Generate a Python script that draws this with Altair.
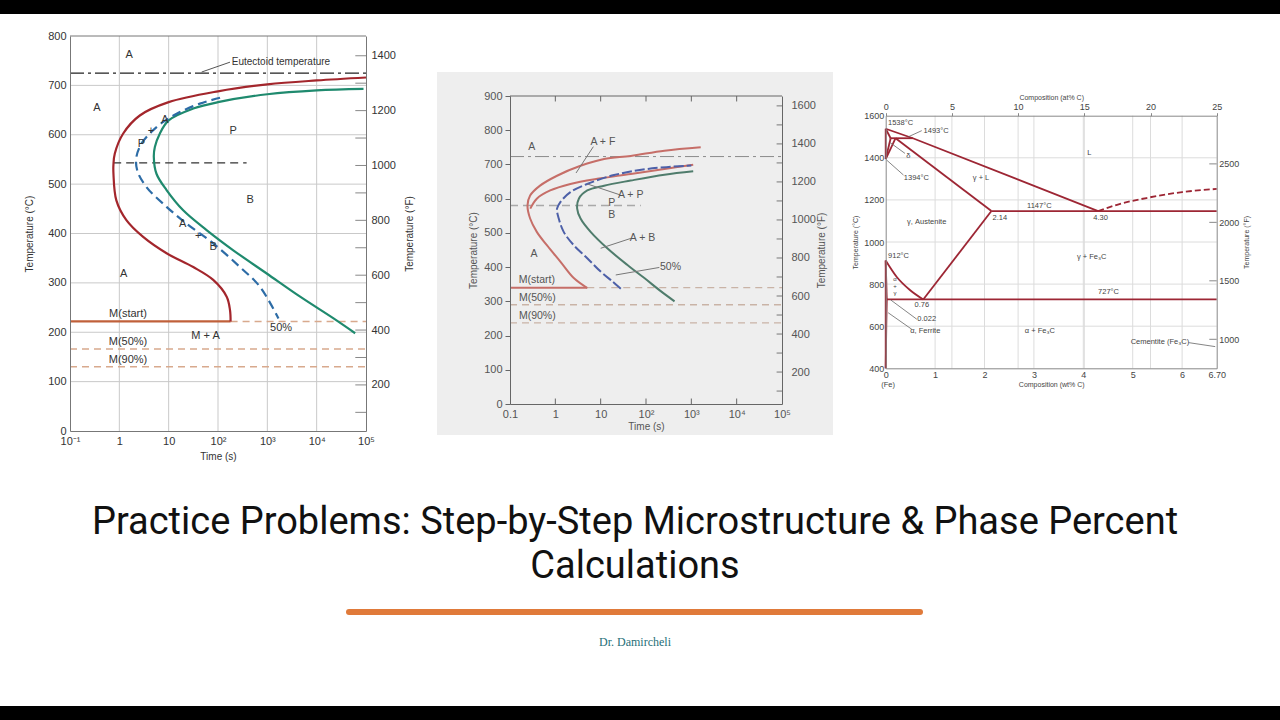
import json
import altair as alt
import pandas as pd

# ======================= DATA =======================
# ---- Panel 1: isothermal transformation diagram, eutectoid steel ----
P1_TIME_TICKS = [0.1, 1, 10, 100, 1000, 10000, 100000]
P1_TIME_LABELS = ["10⁻¹", "1", "10", "10²", "10³", "10⁴", "10⁵"]
P1_TIME_GRID = [1, 10, 100, 1000, 10000]
P1_C_TICKS = [0, 100, 200, 300, 400, 500, 600, 700, 800]
P1_C_GRID = [100, 200, 300, 400, 500, 600, 700]
P1_F_TICKS = [200, 400, 600, 800, 1000, 1200, 1400]
P1_F_MINOR = [100, 200, 300, 400, 500, 600, 700, 800, 900, 1000, 1100, 1200, 1300, 1400]

P1_START_T = [100000, 10000, 1000, 100, 10, 2.6, 1.19, 0.81, 0.76, 0.76, 0.87, 1.39, 3.04, 9.06, 31.5, 80, 150, 175, 180]
P1_START_C = [716, 710, 702, 688, 666, 639, 602, 562, 540, 521, 467, 427, 393, 360, 332, 306, 272, 245, 222]
P1_FINISH_T = [89000, 10000, 1000, 100, 31.5, 10, 6.6, 5.25, 5.0, 5.66, 9.06, 19.7, 58.7, 204, 973, 4620, 21980, 60300]
P1_FINISH_C = [693, 690, 682, 666, 653, 629, 602, 575, 555, 521, 488, 447, 407, 366, 319, 272, 228, 198]
P1_HALF_T = [110, 43, 16.9, 7.74, 4.49, 2.81, 2.22, 2.30, 3.55, 9.06, 23, 80, 279, 711, 1680]
P1_HALF_C = [675, 663, 646, 626, 606, 582, 555, 528, 494, 454, 420, 380, 332, 292, 228]
P1_EUTECTOID = 725
P1_MS, P1_M50, P1_M90 = 222, 166, 130
P1_MS_END = 180
P1_DASH_C, P1_DASH_T0, P1_DASH_T1 = 543, 0.75, 380
P1_LABELS = [
    ("A", 1.58, 762), ("A", 0.353, 655), ("P", 204, 608), ("B", 447, 467),
    ("A", 1.23, 318), ("M + A", 56, 192), ("50%", 1900, 208),
    ("P", 2.8, 581), ("+", 4.4, 607), ("A", 8.4, 629),
    ("A", 19.2, 419), ("+", 39.8, 395), ("B", 80, 373),
    ("M(start)", 1.5, 237), ("M(50%)", 1.5, 181), ("M(90%)", 1.5, 144),
]
P1_EUT_LABEL = ("Eutectoid temperature", 190, 747)
P1_EUT_ARROW_T = [175, 46.6]
P1_EUT_ARROW_C = [747, 727]

# ---- Panel 2: isothermal transformation diagram, alloy steel ----
P2_TIME_TICKS = [0.1, 1, 10, 100, 1000, 10000, 100000]
P2_TIME_LABELS = ["0.1", "1", "10", "10²", "10³", "10⁴", "10⁵"]
P2_TIME_MINOR = [1, 10, 100, 1000, 10000]
P2_C_TICKS = [0, 100, 200, 300, 400, 500, 600, 700, 800, 900]
P2_F_TICKS = [200, 400, 600, 800, 1000, 1200, 1400, 1600]
P2_F_MINOR = [100, 200, 300, 400, 500, 600, 700, 800, 900, 1000, 1100, 1200, 1300, 1400, 1500, 1600]

P2_AF_T = [5.06, 2.55, 1.29, 0.65, 0.39, 0.278, 0.243, 0.278, 0.46, 1.09, 3.6, 11.9, 46, 255, 1611]
P2_AF_C = [339, 368, 416, 464, 503, 542, 580, 609, 638, 667, 696, 716, 725, 740, 750]
P2_AP_T = [0.28, 0.39, 0.77, 2.15, 8.4, 46, 255, 1100]
P2_AP_C = [571, 600, 624, 643, 658, 672, 687, 699]
P2_HALF_T = [27.8, 18.2, 10, 5.06, 2.55, 1.53, 1.19, 1.09, 1.29, 2.15, 5.06, 19.8, 110, 1000]
P2_HALF_C = [337, 358, 387, 426, 464, 503, 542, 571, 590, 619, 643, 669, 687, 697]
P2_AB_T = [426, 215, 92, 39, 14, 6.0, 3.6, 3.03, 3.3, 5.06, 11.9, 46, 255, 1100]
P2_AB_C = [300, 329, 368, 406, 455, 503, 542, 571, 600, 624, 638, 653, 670, 680]
P2_EUTECTOID = 723
P2_MS, P2_M50, P2_M90 = 340, 290, 237
P2_MS_END = 5.06
P2_DASH_C, P2_DASH_T1 = 580, 77
P2_LABELS = [
    ("A", 0.30, 751), ("A + F", 11.2, 766), ("A + P", 46, 611), ("P", 17.5, 588),
    ("B", 17.5, 551), ("A + B", 84, 484), ("A", 0.34, 438), ("50%", 347, 399),
    ("M(start)", 0.39, 363), ("M(50%)", 0.40, 310), ("M(90%)", 0.40, 257),
]
P2_LEADERS = [  # (id, t0, C0, t1, C1)
    ("af", 6.9, 752, 2.86, 675),
    ("ap", 26.9, 611, 5.06, 643),
    ("ab", 46.4, 484, 10, 455),
    ("half", 197, 399, 21.5, 377),
]

# ---- Panel 3: iron - iron carbide phase diagram ----
P3_WT_TICKS = [0, 1, 2, 3, 4, 5, 6, 6.70]
P3_WT_GRID = [1, 2, 3, 4, 5, 6]
P3_AT_TICKS = [0, 5, 10, 15, 20, 25]
P3_AT_GRID = [5, 10, 15, 20]
P3_C_TICKS = [400, 600, 800, 1000, 1200, 1400, 1600]
P3_C_GRID = [600, 800, 1000, 1200, 1400]
P3_F_TICKS = [1000, 1500, 2000, 2500]

P3_SEGMENTS = {  # phase boundaries: (wt% C list, °C list)
    "liquidus": ([0, 0.55, 4.30], [1538, 1493, 1147]),
    "peritectic": ([0.10, 0.55], [1493, 1493]),
    "delta_sol": ([0, 0.10], [1538, 1493]),
    "delta_solv": ([0, 0.10], [1394, 1493]),
    "gamma_delta": ([0, 0.20], [1394, 1493]),
    "gamma_sol": ([0.20, 2.14], [1493, 1147]),
    "eutectic": ([2.14, 6.70], [1147, 1147]),
    "acm": ([2.14, 0.76], [1147, 727]),
    "alpha_gamma": ([0, 0.022], [912, 727]),
    "eutectoid": ([0.022, 6.70], [727, 727]),
    "alpha_solv": ([0.022, 0.012, 0], [727, 600, 400]),
    "fe_low": ([0, 0], [400, 912]),
    "fe_high": ([0, 0], [1394, 1538]),
}
P3_A3_W = [0, 0.22, 0.49, 0.76]
P3_A3_C = [912, 835, 772, 727]
P3_FE3C_LIQ_W = [4.30, 4.7, 5.3, 6.0, 6.70]
P3_FE3C_LIQ_C = [1147, 1178, 1210, 1237, 1252]
P3_LABELS = [
    ("1538°C", 0.30, 1565), ("1493°C", 1.02, 1529), ("δ", 0.46, 1410),
    ("1394°C", 0.62, 1306), ("L", 4.12, 1421), ("γ + L", 1.93, 1302),
    ("1147°C", 3.11, 1171), ("2.14", 2.31, 1112), ("4.30", 4.35, 1112),
    ("γ, Austenite", 0.83, 1093), ("912°C", 0.26, 935), ("γ + Fe₃C", 4.17, 930),
    ("727°C", 4.51, 764), ("0.76", 0.73, 701), ("0.022", 0.83, 633),
    ("α, Ferrite", 0.80, 576), ("α + Fe₃C", 3.12, 579), ("Cementite (Fe₃C)", 5.55, 527),
    ("(Fe)", 0.05, 320),
]
P3_STACK = [("α", 0.19, 822), ("+", 0.19, 791), ("γ", 0.19, 760)]
P3_LEADERS = [
    ("1493", 0.73, 1529, 0.46, 1500),
    ("delta", 0.39, 1421, 0.09, 1472),
    ("1394", 0.36, 1318, 0.02, 1389),
    ("0022", 0.63, 633, 0.10, 725),
    ("ferrite", 0.53, 585, 0.05, 664),
    ("cem", 6.13, 522, 6.67, 503),
]

TITLE_LINES = ["Practice Problems: Step-by-Step Microstructure & Phase Percent", "Calculations"]
AUTHOR = "Dr. Damircheli"

# ======================= LAYOUT / STYLE =======================
W, H = 1280, 720
SANS = "Liberation Sans"

X1 = alt.Scale(type="log", domain=[0.1, 100000], range=[70, 366], nice=False)
Y1 = alt.Scale(domain=[0, 800], range=[431, 36], nice=False, zero=False)
F1 = alt.Scale(domain=[32, 1472], range=[431, 36], nice=False, zero=False)

X2 = alt.Scale(type="log", domain=[0.1, 100000], range=[510, 782], nice=False)
Y2 = alt.Scale(domain=[0, 900], range=[404, 96], nice=False, zero=False)
F2 = alt.Scale(domain=[32, 1652], range=[404, 96], nice=False, zero=False)

X3 = alt.Scale(domain=[0, 6.70], range=[885.7, 1216.7], nice=False, zero=False)
XA3 = alt.Scale(domain=[0, 25], range=[885.7, 1216.7], nice=False, zero=False)
Y3 = alt.Scale(domain=[400, 1600], range=[368.3, 115.7], nice=False, zero=False)
F3 = alt.Scale(domain=[752, 2912], range=[368.3, 115.7], nice=False, zero=False)


def lab_expr(labels):
    return json.dumps(labels) + "[round(log(datum.value)/LN10)+1]"


def path(xs, ys, sx, sy, color, width=2.0, dash=None, interp="catmull-rom"):
    df = pd.DataFrame({"x": xs, "y": ys, "i": list(range(len(xs)))})
    kw = dict(color=color, strokeWidth=width, interpolate=interp)
    if dash:
        kw["strokeDash"] = dash
    return alt.Chart(df).mark_line(**kw).encode(
        x=alt.X("x:Q", scale=sx, axis=None),
        y=alt.Y("y:Q", scale=sy, axis=None),
        order=alt.Order("i:Q"),
    )


def seg(x0, x1, y, sx, sy, color, width=1.5, dash=None):
    return path([x0, x1], [y, y], sx, sy, color, width, dash, "linear")


def texts(items, sx, sy, size, color, align="center", font=SANS, style=None):
    df = pd.DataFrame(items, columns=["label", "x", "y"])
    kw = dict(fontSize=size, color=color, font=font, align=align, baseline="middle")
    if style:
        kw["fontStyle"] = style
    return alt.Chart(df).mark_text(**kw).encode(
        x=alt.X("x:Q", scale=sx, axis=None),
        y=alt.Y("y:Q", scale=sy, axis=None),
        text="label:N",
    )


def vgrid(vals, sx, sy, y0, y1, color, width=1):
    df = pd.DataFrame({"v": vals})
    return alt.Chart(df).mark_rule(color=color, strokeWidth=width).encode(
        x=alt.X("v:Q", scale=sx, axis=None),
        y=alt.YDatum(y0, scale=sy, axis=None),
        y2=alt.Y2Datum(y1),
    )


def hgrid(vals, sx, sy, x0, x1, color, width=1):
    df = pd.DataFrame({"v": vals})
    return alt.Chart(df).mark_rule(color=color, strokeWidth=width).encode(
        y=alt.Y("v:Q", scale=sy, axis=None),
        x=alt.XDatum(x0, scale=sx, axis=None),
        x2=alt.X2Datum(x1),
    )


def leaders(rows, sx, sy, color="#666", width=1):
    recs = []
    for name, a0, b0, a1, b1 in rows:
        recs.append({"id": name, "x": a0, "y": b0, "i": 0})
        recs.append({"id": name, "x": a1, "y": b1, "i": 1})
    df = pd.DataFrame(recs)
    return alt.Chart(df).mark_line(color=color, strokeWidth=width).encode(
        x=alt.X("x:Q", scale=sx, axis=None),
        y=alt.Y("y:Q", scale=sy, axis=None),
        detail="id:N",
        order=alt.Order("i:Q"),
    )


def axis_holder(xdom, ydom, sx, sy, xaxis, yaxis):
    df = pd.DataFrame({"x": xdom, "y": ydom})
    return alt.Chart(df).mark_point(opacity=0).encode(
        x=alt.X("x:Q", scale=sx, axis=xaxis),
        y=alt.Y("y:Q", scale=sy, axis=yaxis),
    )


def axis_style(color, size, tsize):
    return dict(labelFont=SANS, labelFontSize=size, labelColor=color,
                titleFont=SANS, titleFontSize=tsize, titleFontWeight="normal",
                titleColor=color, grid=False, labelFlush=False, labelOverlap=False, zindex=2)


RIGHT_TITLE = dict(titleAngle=270, titleBaseline="top")

layers = []

# ---- background decoration ----
dummy = pd.DataFrame({"k": [0]})
layers.append(alt.Chart(dummy).mark_rect(color="#eeeeee").encode(
    x=alt.value(437), x2=alt.value(833), y=alt.value(72), y2=alt.value(435)))

# ======================= PANEL 1 =======================
G1 = "#c9c9c9"
RED1, GRN1, BLU1, MS1, TAN1 = "#a3262c", "#1f8a6e", "#2d6ca6", "#c0603a", "#d8a98d"
layers += [
    vgrid(P1_TIME_GRID, X1, Y1, 0, 800, G1),
    hgrid(P1_C_GRID, X1, Y1, 0.1, 100000, G1),
    hgrid([800], X1, Y1, 0.1, 100000, "#777"),
]
s1 = axis_style("#333", 11, 10)
layers.append(axis_holder(
    [0.1, 100000], [0, 800], X1, Y1,
    alt.Axis(orient="bottom", offset=431 - H, values=P1_TIME_TICKS, labelExpr=lab_expr(P1_TIME_LABELS),
             title="Time (s)", ticks=False, domainColor="#777", labelPadding=4, titlePadding=5, **s1),
    alt.Axis(orient="left", offset=-70, values=P1_C_TICKS, title="Temperature (°C)", ticks=False,
             domainColor="#777", labelPadding=4, titlePadding=13, format="d", **s1),
))
# °F axis with inward ticks
layers.append(alt.Chart(pd.DataFrame({"F": P1_F_MINOR})).mark_rule(color="#888").encode(
    y=alt.Y("F:Q", scale=F1, axis=alt.Axis(orient="right", offset=366 - W, values=P1_F_TICKS, format="d",
                                           title="Temperature (°F)", ticks=False, domainColor="#777",
                                           labelPadding=5, titlePadding=9, **RIGHT_TITLE, **s1)),
    x=alt.XDatum(60700, scale=X1, axis=None), x2=alt.X2Datum(100000),
))
layers += [
    path([0.1, 100000], [P1_EUTECTOID, P1_EUTECTOID], X1, Y1, "#222", 1.2, [14, 4, 3, 4], "linear"),
    path(P1_EUT_ARROW_T, P1_EUT_ARROW_C, X1, Y1, "#555", 1, None, "monotone"),
    seg(P1_DASH_T0, P1_DASH_T1, P1_DASH_C, X1, Y1, "#333", 1.3, [8, 5]),
    seg(P1_MS_END, 100000, P1_MS, X1, Y1, TAN1, 1.5, [7, 5]),
    seg(0.1, 100000, P1_M50, X1, Y1, TAN1, 1.5, [7, 5]),
    seg(0.1, 100000, P1_M90, X1, Y1, TAN1, 1.5, [7, 5]),
    seg(0.1, P1_MS_END, P1_MS, X1, Y1, MS1, 2.2),
    path(P1_START_T, P1_START_C, X1, Y1, RED1, 2.2),
    path(P1_FINISH_T, P1_FINISH_C, X1, Y1, GRN1, 2.2),
    path(P1_HALF_T, P1_HALF_C, X1, Y1, BLU1, 2.2, [9, 5]),
    texts(P1_LABELS, X1, Y1, 11, "#333"),
    texts([P1_EUT_LABEL], X1, Y1, 10, "#333", align="left"),
]

# ======================= PANEL 2 =======================
RED2, BLU2, GRN2, TAN2 = "#c66e68", "#4d60a8", "#4f7c6c", "#c9b3a6"
s2 = axis_style("#555", 11, 10)
layers.append(axis_holder(
    [0.1, 100000], [0, 900], X2, Y2,
    alt.Axis(orient="bottom", offset=404 - H, values=P2_TIME_TICKS, labelExpr=lab_expr(P2_TIME_LABELS),
             title="Time (s)", ticks=False, domainColor="#666", labelPadding=4, titlePadding=2, **s2),
    alt.Axis(orient="left", offset=-510, values=P2_C_TICKS, title="Temperature (°C)", ticks=True,
             tickSize=5, tickColor="#666", domainColor="#666", labelPadding=3, titlePadding=5, **s2),
))
layers.append(alt.Chart(pd.DataFrame({"F": P2_F_MINOR})).mark_rule(color="#777").encode(
    y=alt.Y("F:Q", scale=F2, axis=alt.Axis(orient="right", offset=782 - W, values=P2_F_TICKS, format="d",
                                           title="Temperature (°F)", ticks=False, domainColor="#666",
                                           labelPadding=9, titlePadding=1, **RIGHT_TITLE, **s2)),
    x=alt.XDatum(76000, scale=X2, axis=None), x2=alt.X2Datum(100000),
))
layers += [
    hgrid([900], X2, Y2, 0.1, 100000, "#666"),
    vgrid(P2_TIME_MINOR, X2, Y2, 0, 16, "#666"),
    vgrid(P2_TIME_MINOR, X2, Y2, 884, 900, "#666"),
    path([0.1, 100000], [P2_EUTECTOID, P2_EUTECTOID], X2, Y2, "#8a8a8a", 1, [14, 4, 3, 4], "linear"),
    seg(0.1, P2_DASH_T1, P2_DASH_C, X2, Y2, "#a9a9a9", 1.3, [8, 5]),
    seg(P2_MS_END, 100000, P2_MS, X2, Y2, TAN2, 1.3, [7, 5]),
    seg(0.1, 100000, P2_M50, X2, Y2, TAN2, 1.3, [7, 5]),
    seg(0.1, 100000, P2_M90, X2, Y2, TAN2, 1.3, [7, 5]),
    seg(0.1, P2_MS_END, P2_MS, X2, Y2, RED2, 2),
    path(P2_AF_T, P2_AF_C, X2, Y2, RED2, 2),
    path(P2_AP_T, P2_AP_C, X2, Y2, RED2, 2),
    path(P2_HALF_T, P2_HALF_C, X2, Y2, BLU2, 2, [10, 3]),
    path(P2_AB_T, P2_AB_C, X2, Y2, GRN2, 2),
    leaders(P2_LEADERS, X2, Y2, "#777", 1),
    texts(P2_LABELS, X2, Y2, 10.5, "#555"),
]

# ======================= PANEL 3 =======================
RED3 = "#9d2634"
G3 = "#dcdcdc"
s3 = axis_style("#444", 9, 7)
layers += [
    vgrid(P3_WT_GRID, X3, Y3, 400, 1600, G3),
    vgrid(P3_AT_GRID, XA3, Y3, 400, 1600, G3),
    hgrid(P3_C_GRID, X3, Y3, 0, 6.70, G3),
]
layers.append(axis_holder(
    [0, 6.70], [400, 1600], X3, Y3,
    alt.Axis(orient="bottom", offset=368.3 - H, values=P3_WT_TICKS,
             labelExpr="datum.value == 6.7 ? '6.70' : datum.label",
             title="Composition (wt% C)", ticks=False, domainColor="#888", labelPadding=2, titlePadding=1, **s3),
    alt.Axis(orient="left", offset=-885.7, values=P3_C_TICKS, title="Temperature (°C)", ticks=False,
             domainColor="#888", labelPadding=2, titlePadding=5, format="d", **s3),
))
layers.append(alt.Chart(pd.DataFrame({"a": P3_AT_TICKS})).mark_point(opacity=0).encode(
    x=alt.X("a:Q", scale=XA3, axis=alt.Axis(orient="top", offset=-115.7, values=P3_AT_TICKS,
                                            title="Composition (at% C)", ticks=True, tickSize=3,
                                            tickColor="#888", domainColor="#888", labelPadding=1,
                                            titlePadding=2, **s3)),
))
layers.append(alt.Chart(pd.DataFrame({"F": P3_F_TICKS})).mark_rule(color="#888").encode(
    y=alt.Y("F:Q", scale=F3, axis=alt.Axis(orient="right", offset=1216.7 - W, values=P3_F_TICKS, format="d",
                                           title="Temperature (°F)", ticks=False, domainColor="#888",
                                           labelPadding=2, titlePadding=4, **RIGHT_TITLE, **s3)),
    x=alt.XDatum(6.55, scale=X3, axis=None), x2=alt.X2Datum(6.70),
))
for name, (ws, cs) in P3_SEGMENTS.items():
    layers.append(path(ws, cs, X3, Y3, RED3, 1.8, None, "linear"))
layers += [
    path(P3_A3_W, P3_A3_C, X3, Y3, RED3, 1.8, None, "monotone"),
    path(P3_FE3C_LIQ_W, P3_FE3C_LIQ_C, X3, Y3, RED3, 1.8, [6, 3], "monotone"),
    leaders(P3_LEADERS, X3, Y3, "#666", 0.8),
    texts(P3_LABELS, X3, Y3, 7.5, "#444"),
    texts(P3_STACK, X3, Y3, 6, "#444"),
]

# ======================= TITLE BLOCK =======================
layers += [
    alt.Chart(pd.DataFrame({"t": [TITLE_LINES[0]]})).mark_text(
        font="Roboto", fontSize=38, color="#111", align="center", baseline="alphabetic").encode(
        text="t:N", x=alt.value(635), y=alt.value(534)),
    alt.Chart(pd.DataFrame({"t": [TITLE_LINES[1]]})).mark_text(
        font="Roboto", fontSize=38, color="#111", align="center", baseline="alphabetic").encode(
        text="t:N", x=alt.value(635), y=alt.value(578)),
    alt.Chart(dummy).mark_rule(color="#e07a3a", strokeWidth=6, strokeCap="round").encode(
        x=alt.value(349), x2=alt.value(920), y=alt.value(612)),
    alt.Chart(pd.DataFrame({"t": [AUTHOR]})).mark_text(
        font="Liberation Serif", fontSize=12, color="#1f6f78", align="center", baseline="middle").encode(
        text="t:N", x=alt.value(635), y=alt.value(642)),
    alt.Chart(dummy).mark_rect(color="black").encode(
        x=alt.value(0), x2=alt.value(W), y=alt.value(0), y2=alt.value(14)),
    alt.Chart(dummy).mark_rect(color="black").encode(
        x=alt.value(0), x2=alt.value(W), y=alt.value(706), y2=alt.value(H)),
]

chart = alt.layer(*layers).resolve_scale(x="independent", y="independent").properties(
    width=W, height=H, autosize=alt.AutoSizeParams(type="none"), padding=0, background="white"
).configure_view(stroke=None)

chart.save("out.html", embed_options={"renderer": "svg", "actions": False})
